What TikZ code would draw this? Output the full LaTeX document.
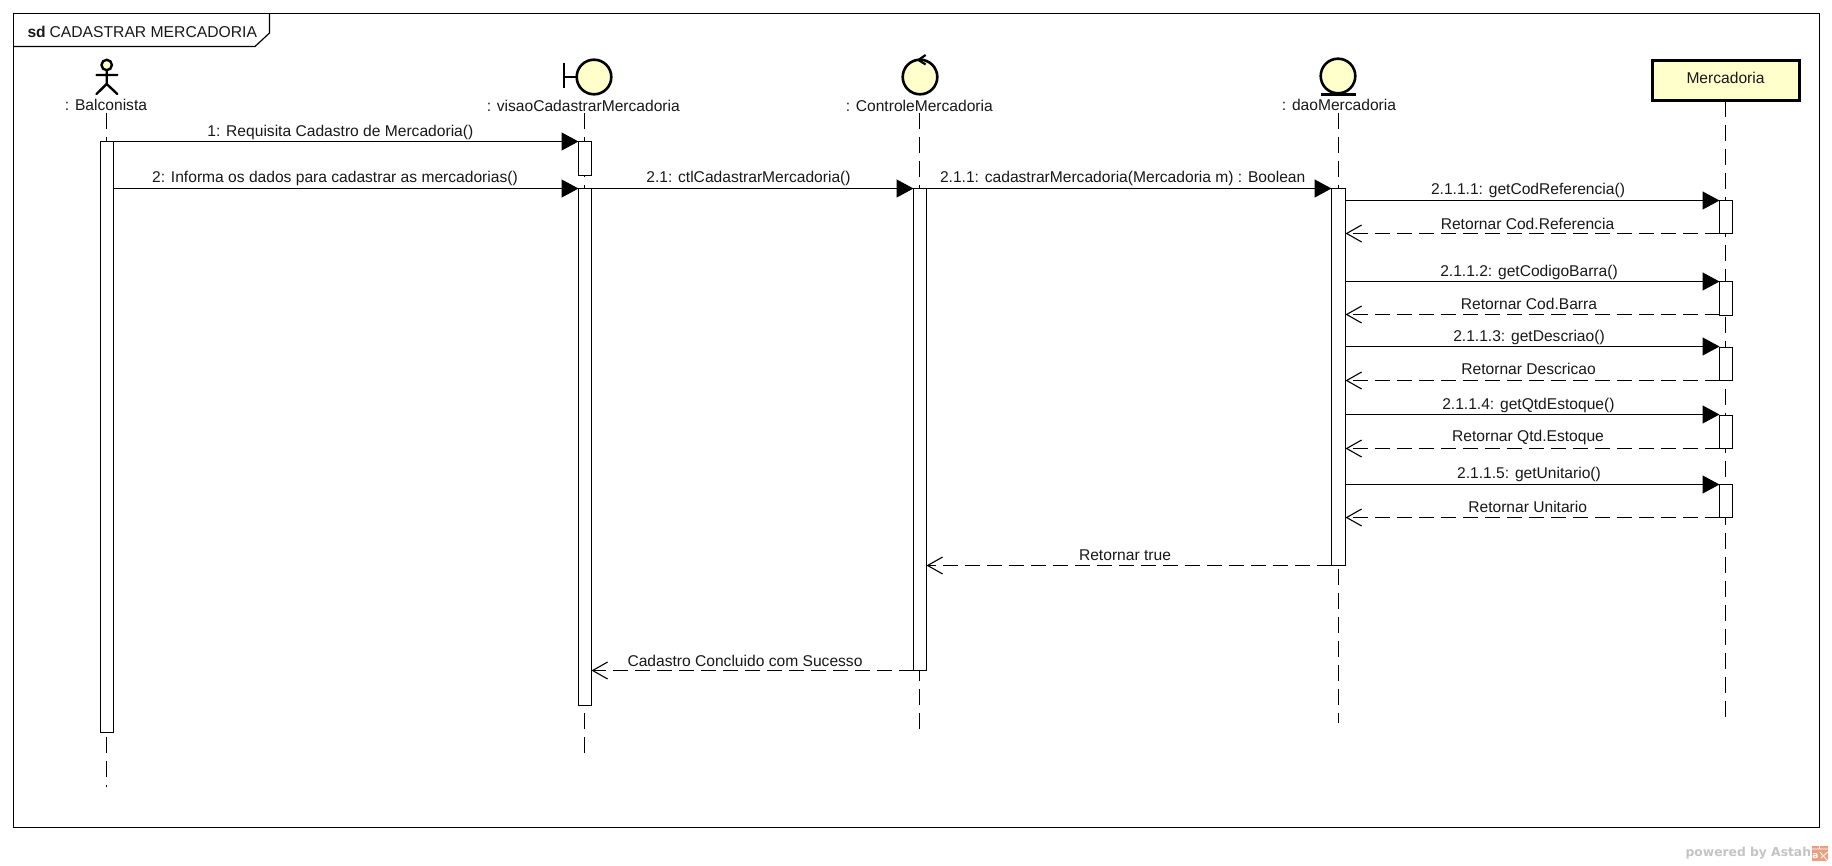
\documentclass[tikz,border=0pt]{standalone}
\usepackage{fontspec}
\setmainfont{Liberation Sans}
\newfontfamily\wmfont{DejaVu Sans}
\usetikzlibrary{arrows.meta}
\definecolor{umlfill}{HTML}{FFFFCC}
\definecolor{wmgray}{HTML}{C4C4C4}
\definecolor{wmorange}{HTML}{E9A080}
\tikzset{
  x=1pt,y=-1pt,
  txt/.style={font=\fontsize{15.6}{18}\selectfont,inner sep=0pt,outer sep=0pt,text=black!90},
  lifeline/.style={line width=1.3pt,dash pattern=on 16pt off 8pt},
  actbar/.style={draw=black,fill=white,line width=1.2pt,inner sep=0pt,outer sep=0pt,anchor=north west},
  icon/.style={draw=black,line width=2.6pt,fill=umlfill},
  call/.style={line width=1.3pt,-{Triangle[length=17pt,width=18pt]}},
  ret/.style={line width=1.2pt,dash pattern=on 15pt off 7pt,-{Straight Barb[length=15pt,width=17pt,line width=1.1pt]}},
}
\newcommand{\barat}[5]{\node[actbar,minimum width=#3pt,minimum height=#4pt] (#5) at (#1,#2) {};}
\begin{document}
\begin{tikzpicture}
\useasboundingbox (0,0) rectangle (1832,866);
\fill[white] (0,0) rectangle (1832,866);
% frame
\draw[line width=1.2pt] (13.5,13.5) rectangle (1819.5,827.5);
\draw[line width=1.2pt] (13.5,46.5) -- (255,46.5) -- (269.5,33) -- (269.5,13.5);
\node[txt,anchor=west] (sdkw) at (27.5,32) {\textbf{sd}};
\node[txt,anchor=west,font=\fontsize{15.7}{18}\selectfont] (sdname) at (49.5,32) {CADASTRAR MERCADORIA};
% lifeline heads
\node[txt] (la) at (106,105) {: Balconista};
\node[txt] (lb) at (583.3,105.5) {: visaoCadastrarMercadoria};
\node[txt] (lc) at (919.3,105.5) {: ControleMercadoria};
\node[txt] (ld) at (1339,105) {: daoMercadoria};
\node[draw=black,line width=3pt,fill=umlfill,minimum width=147.5pt,minimum height=40pt,inner sep=0pt,outer sep=0pt] (le) at (1726,80.5) {};
\node[txt] (letext) at (1725.5,77.5) {Mercadoria};
% lifeline ends
\coordinate (sa) at (106.5,113);
\coordinate (sb) at (584.5,113);
\coordinate (sc) at (919.5,113);
\coordinate (sd) at (1338.5,113);
\coordinate (se) at (1725.5,101);
\coordinate (ea) at (106.5,787);
\coordinate (eb) at (584.5,753);
\coordinate (ec) at (919.5,730);
\coordinate (ed) at (1338.5,723);
\coordinate (ee) at (1725.5,717);
\draw[lifeline] (sa) -- (ea);
\draw[lifeline] (sb) -- (eb);
\draw[lifeline] (sc) -- (ec);
\draw[lifeline] (sd) -- (ed);
\draw[lifeline] (se) -- (ee);
% actor icon
\draw[line width=2.4pt,fill=umlfill] (106.7,65) circle (5.2);
\draw[line width=2.4pt,line cap=round] (106.7,70.2) -- (106.7,84) (96.5,75) -- (117.3,75) (96.5,94) -- (106.7,84) -- (117.3,94);
% boundary icon
\draw[icon] (594,77) circle (17.3);
\draw[line width=2.6pt] (564,63) -- (564,88) (564,77) -- (576.7,77);
% control icon
\draw[icon] (920,77) circle (17.3);
\draw[line width=2.2pt] (925.6,55) -- (918.5,60) -- (925.6,64.5);
% entity icon
\draw[icon] (1338,76) circle (17.3);
\draw[line width=2.6pt] (1321,94.3) -- (1356,94.3);
% activation bars
\barat{100.5}{141.5}{13}{591}{ba}
\barat{578.5}{141.5}{13}{34}{bb1}
\barat{578.5}{188.5}{13}{517}{bb2}
\barat{913.5}{188.5}{13}{482}{bc}
\barat{1331.5}{188.5}{14}{377}{bd}
\barat{1719.5}{200.5}{13}{33}{be1}
\barat{1719.5}{281.5}{13}{34}{be2}
\barat{1719.5}{347.5}{13}{33}{be3}
\barat{1719.5}{415.5}{13}{33}{be4}
\barat{1719.5}{484.5}{13}{33}{be5}
% message rows
\coordinate (m2) at (0,188.5);
\coordinate (r1) at (0,233.5);
\coordinate (r2) at (0,314.5);
\coordinate (c3) at (0,346.5);
\coordinate (r3) at (0,380.5);
\coordinate (c4) at (0,414.5);
\coordinate (r4) at (0,448.5);
\coordinate (r5) at (0,517.5);
\coordinate (rc) at (0,670.5);
% messages
\draw[call] (ba.north east) -- (bb1.north west);
\node[txt] (t1) at (340.4,132.5) {1: Requisita Cadastro de Mercadoria()};
\draw[call] (ba.east |- m2) -- (bb2.north west);
\node[txt] (t2) at (335,178.3) {2: Informa os dados para cadastrar as mercadorias()};
\draw[call] (bb2.north east) -- (bc.north west);
\node[txt] (t21) at (748.5,178.1) {2.1: ctlCadastrarMercadoria()};
\draw[call] (bc.north east) -- (bd.north west);
\node[txt] (t211) at (1122.7,178.1) {2.1.1: cadastrarMercadoria(Mercadoria m) : Boolean};
\draw[call] (bd.east |- be1.north) -- (be1.north west);
\node[txt] (t2111) at (1528,190.6) {2.1.1.1: getCodReferencia()};
\draw[ret] (be1.west |- r1) -- (bd.east |- r1);
\node[txt] (tr1) at (1527.5,223.5) {Retornar Cod.Referencia};
\draw[call] (bd.east |- be2.north) -- (be2.north west);
\node[txt] (t2112) at (1529,272.3) {2.1.1.2: getCodigoBarra()};
\draw[ret] (be2.west |- r2) -- (bd.east |- r2);
\node[txt] (tr2) at (1529,304.3) {Retornar Cod.Barra};
\draw[call] (bd.east |- c3) -- (be3.west |- c3);
\node[txt] (t2113) at (1529,337.5) {2.1.1.3: getDescriao()};
\draw[ret] (be3.west |- r3) -- (bd.east |- r3);
\node[txt] (tr3) at (1528.6,369.3) {Retornar Descricao};
\draw[call] (bd.east |- c4) -- (be4.west |- c4);
\node[txt] (t2114) at (1528.4,405.1) {2.1.1.4: getQtdEstoque()};
\draw[ret] (be4.west |- r4) -- (bd.east |- r4);
\node[txt] (tr4) at (1528,437.3) {Retornar Qtd.Estoque};
\draw[call] (bd.east |- be5.north) -- (be5.north west);
\node[txt] (t2115) at (1529,474.5) {2.1.1.5: getUnitario()};
\draw[ret] (be5.west |- r5) -- (bd.east |- r5);
\node[txt] (tr5) at (1527.7,507.3) {Retornar Unitario};
\draw[ret] (bd.south west) -- (bc.east |- bd.south);
\node[txt] (trt) at (1125,555) {Retornar true};
\draw[ret] (bc.west |- rc) -- (bb2.east |- rc);
\node[txt] (tcc) at (745,660.7) {Cadastro Concluido com Sucesso};
% watermark
\node[inner sep=0pt,outer sep=0pt,anchor=east,text=wmgray,font=\wmfont\bfseries\fontsize{12.3}{15}\selectfont] (wm) at (1811,853) {powered by Astah};
\fill[wmorange] (1812,846) rectangle (1827.7,861);
\draw[white,line width=0.8pt] (1812,849) -- (1827.7,849) (1819.5,846) -- (1819.5,849) (1820,852) -- (1827.7,861) (1827.7,852) -- (1821,858);
\node[inner sep=0pt,text=white,font=\wmfont\bfseries\fontsize{9}{10}\selectfont] (wmlogo) at (1815.5,856.5) {a};
\end{tikzpicture}
\end{document}
